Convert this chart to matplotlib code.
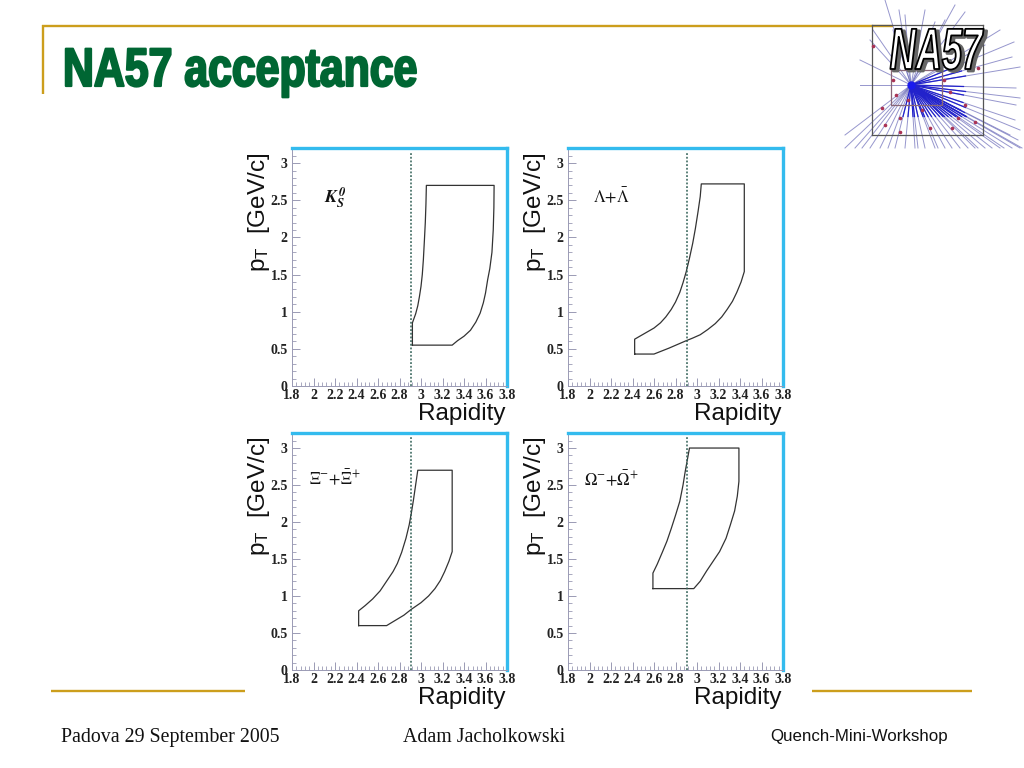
import matplotlib
matplotlib.use("Agg")
import matplotlib.pyplot as plt
import matplotlib.patheffects as pe
from matplotlib.colors import to_rgba
from matplotlib.transforms import Affine2D
from matplotlib.ticker import MultipleLocator, FixedLocator

plt.rcParams['mathtext.fontset'] = 'stix'

W, H = 1024, 768
GOLD = '#cc9e1c'
GREEN = '#006633'
BLUE = '#33bbee'
AXIS = '#9a9ab4'

# acceptance windows (rapidity, pT)
k0_y = [2.92, 2.92, 2.95, 2.97, 2.985, 3.0, 3.012, 3.022, 3.032, 3.04, 3.046, 3.05,
        3.68, 3.678, 3.672, 3.66, 3.64, 3.62, 3.60, 3.58, 3.55, 3.51, 3.46, 3.40, 3.34, 3.29, 2.92]
k0_pt = [0.55, 0.85, 0.97, 1.08, 1.2, 1.34, 1.5, 1.7, 1.97, 2.2, 2.45, 2.7,
         2.7, 2.4, 2.1, 1.8, 1.58, 1.43, 1.25, 1.12, 0.98, 0.86, 0.75, 0.67, 0.61, 0.55, 0.55]

lam_y = [2.42, 2.42, 2.48, 2.54, 2.60, 2.66, 2.71, 2.76, 2.80, 2.84, 2.87, 2.90, 2.93, 2.96, 2.985, 3.01, 3.03, 3.04,
         3.44, 3.44, 3.41, 3.37, 3.33, 3.28, 3.23, 3.17, 3.10, 3.03, 2.96, 2.90, 2.82, 2.74, 2.67, 2.60, 2.42]
lam_pt = [0.43, 0.63, 0.68, 0.73, 0.78, 0.85, 0.93, 1.03, 1.13, 1.26, 1.39, 1.54, 1.72, 1.92, 2.12, 2.35, 2.55, 2.72,
          2.72, 1.54, 1.40, 1.26, 1.14, 1.03, 0.93, 0.84, 0.76, 0.69, 0.645, 0.61, 0.56, 0.51, 0.47, 0.43, 0.43]

xi_y = [2.42, 2.42, 2.48, 2.55, 2.62, 2.68, 2.74, 2.78, 2.82, 2.86, 2.89, 2.91, 2.93, 2.95, 2.97,
        3.29, 3.29, 3.26, 3.22, 3.18, 3.13, 3.07, 3.0, 2.91, 2.84, 2.76, 2.68, 2.42]
xi_pt = [0.6, 0.8, 0.87, 0.96, 1.07, 1.2, 1.33, 1.44, 1.59, 1.78, 1.96, 2.12, 2.3, 2.5, 2.7,
         2.7, 1.6, 1.47, 1.33, 1.21, 1.1, 1.0, 0.91, 0.82, 0.74, 0.67, 0.6, 0.6]

om_y = [2.59, 2.59, 2.63, 2.68, 2.72, 2.76, 2.80, 2.84, 2.87, 2.89, 2.91, 2.93,
        3.39, 3.39, 3.375, 3.35, 3.31, 3.27, 3.21, 3.15, 3.09, 3.03, 2.97, 2.59]
om_pt = [1.1, 1.31, 1.43, 1.6, 1.74, 1.91, 2.09, 2.28, 2.5, 2.68, 2.84, 3.0,
         3.0, 2.55, 2.35, 2.15, 1.96, 1.78, 1.6, 1.47, 1.34, 1.2, 1.1, 1.1]

labels = [r'$\mathbfit{K}_{\mathbfit{S}}^{\,\mathbfit{0}}$', r'$\Lambda{+}\bar{\Lambda}$',
          r'$\Xi^{-}{+}\bar{\Xi}^{+}$', r'$\Omega^{-}{+}\bar{\Omega}^{+}$']
label_pt = [2.53, 2.55, 2.58, 2.57]
cut_y = 2.91
x_ticks = [1.8, 2, 2.2, 2.4, 2.6, 2.8, 3, 3.2, 3.4, 3.6, 3.8]
y_ticks = [0, 0.5, 1, 1.5, 2, 2.5, 3]

# logo tracks: end points in pixels, all from the vertex
track_x = [860, 860, 845, 870, 873, 885, 893, 899, 905, 925, 935, 945, 955, 965, 985, 1000,
           1014, 1012, 1020, 1016, 1020, 1016, 1015, 1020, 1022, 1018, 1020, 1012, 1004, 1010, 1000, 992,
           985, 978, 975, 968, 960, 952, 945, 938, 935, 925, 918, 915, 905, 895, 888, 880, 870, 862, 855, 845]
track_y = [85, 60, 135, 40, 30, 0, 30, 10, 15, 10, 22, 20, 5, 12, 45, 30,
           42, 57, 67, 88, 98, 105, 120, 130, 148, 140, 148, 148, 148, 135, 148, 148,
           148, 148, 148, 148, 148, 148, 148, 148, 148, 148, 148, 148, 148, 148, 148, 148, 148, 148, 148, 148]
dot_x = [873, 882, 900, 935, 950, 965, 975, 978, 958, 930, 900, 885, 908, 922, 944, 893, 896, 952]
dot_y = [46, 108, 132, 62, 92, 105, 122, 68, 118, 128, 118, 125, 100, 110, 80, 80, 95, 128]
logo_lines = [(872, 983, 25, 25), (983, 983, 25, 135), (872, 983, 135, 135), (872, 872, 25, 135)]


class Squeeze(pe.AbstractPathEffect):
    # narrows a real text, the slide uses a condensed face we do not have
    def __init__(self, sx, x0, lw, color, fill=None, offset=(0, 0)):
        super().__init__()
        self.sx = sx
        self.x0 = x0
        self.lw = lw
        self.color = color
        self.fill = fill
        self.dx, self.dy = offset

    def draw_path(self, renderer, gc, tpath, affine, rgbFace=None):
        squeeze = (Affine2D().translate(-self.x0, 0).scale(self.sx, 1)
                   .translate(self.x0 + self.dx, self.dy))
        face = rgbFace if self.fill is None else to_rgba(self.fill)
        gc0 = renderer.new_gc()
        gc0.copy_properties(gc)
        gc0.set_linewidth(self.lw)
        gc0.set_foreground(self.color)
        renderer.draw_path(gc0, tpath, affine + squeeze, face)
        gc0.restore()


fig = plt.figure(figsize=(W / 100, H / 100), dpi=100, facecolor='white')

# page furniture drawn in pixel coordinates
bg = fig.add_axes([0, 0, 1, 1])
bg.set_xlim(0, W)
bg.set_ylim(H, 0)
bg.axis('off')

bg.plot([42, 893], [26, 26], color=GOLD, lw=1.7, solid_capstyle='butt')
bg.plot([43, 43], [25, 94], color=GOLD, lw=1.7, solid_capstyle='butt')
bg.plot([51, 245], [691, 691], color=GOLD, lw=1.7, solid_capstyle='butt')
bg.plot([812, 972], [691, 691], color=GOLD, lw=1.7, solid_capstyle='butt')

title = bg.text(63, 86, 'NA57 acceptance', color=GREEN, fontsize=39, fontweight='bold',
                family='Liberation Sans', ha='left', va='baseline')
title.set_path_effects([Squeeze(0.79, 63, 1.6, GREEN)])

bg.text(61, 742, 'Padova 29 September 2005', family='Liberation Serif', fontsize=14.3, color='#111111', ha='left')
bg.text(403, 742, 'Adam Jacholkowski', family='Liberation Serif', fontsize=14.3, color='#111111', ha='left')
bg.text(770, 741, 'Quench-Mini-Workshop', family='Liberation Sans', fontsize=12.2, color='#111111', ha='left')

# NA57 logo
vx, vy = 911, 85
for tx, ty in zip(track_x, track_y):
    bg.plot([vx, tx], [vy, ty], color='#6a6ab8', lw=0.7, alpha=0.7)
for tx, ty in zip(track_x[16:46], track_y[16:46]):
    bg.plot([vx, vx + 0.5 * (tx - vx)], [vy, vy + 0.5 * (ty - vy)], color='#2222cc', lw=0.9)
for x0, x1, y0, y1 in logo_lines:
    bg.plot([x0, x1], [y0, y1], color='#555555', lw=0.9)
bg.plot([891, 942, 942, 891, 891], [70, 70, 105, 105, 70], color='#886677', lw=0.9)
bg.plot(dot_x, dot_y, ls='none', marker='o', ms=1.6, color='#aa3355')
bg.plot([vx], [vy], marker='o', ms=5, color='#1a1aee')
logo = bg.text(936, 69, 'NA57', fontsize=42, fontweight='bold', fontstyle='italic', color='white',
               family='Liberation Sans', ha='center', va='baseline')
logo.set_path_effects([Squeeze(0.62, 936, 2.0, '#666666', fill='#666666', offset=(3, -2)),
                       Squeeze(0.62, 936, 1.3, 'black')])

panels = [
    (292, 147.5, 386, k0_y, k0_pt),
    (568, 147.5, 386, lam_y, lam_pt),
    (292, 432.5, 670, xi_y, xi_pt),
    (568, 432.5, 670, om_y, om_pt),
]

for i, (left, top, bottom, yy, pt) in enumerate(panels):
    ax = fig.add_axes([left / W, 1 - bottom / H, 215 / W, (bottom - top) / H])
    ax.set_facecolor('none')
    ax.set_xlim(1.8, 3.8)
    ax.set_ylim(0, 3.21)
    ax.plot(yy, pt, color='#333333', lw=0.9, solid_joinstyle='round')
    ax.plot([cut_y, cut_y], [0, 3.15], color='#2f5f55', lw=1.1, ls=(0, (1.2, 1.2)))

    ax.spines['top'].set(color=BLUE, lw=2.4)
    ax.spines['right'].set(color=BLUE, lw=2.4)
    ax.spines['left'].set(color=AXIS, lw=0.7)
    ax.spines['bottom'].set(color=AXIS, lw=0.7)

    ax.xaxis.set_major_locator(FixedLocator(x_ticks))
    ax.yaxis.set_major_locator(FixedLocator(y_ticks))
    ax.xaxis.set_minor_locator(MultipleLocator(0.04))
    ax.yaxis.set_minor_locator(MultipleLocator(0.1))
    ax.tick_params(which='major', direction='in', length=5.8, width=0.7, color=AXIS)
    ax.tick_params(which='minor', direction='in', length=2.8, width=0.6, color=AXIS)
    ax.tick_params(axis='x', pad=2)
    ax.tick_params(axis='y', pad=3)
    ax.set_xticklabels([f'{t:g}' for t in x_ticks], family='Liberation Serif', fontweight='bold',
                       fontsize=10, color='#222222')
    ax.set_yticklabels([f'{t:g}' for t in y_ticks], family='Liberation Serif', fontweight='bold',
                       fontsize=10, color='#222222')

    ax.text(3.79, -0.23, 'Rapidity', family='Liberation Sans', fontsize=17.5, color='#111111',
            ha='right', va='top')
    ax.text(-0.155, 0.73, r'$\mathregular{p_T}$  [GeV/c]', transform=ax.transAxes, rotation=90,
            family='Liberation Sans', fontsize=17.5, color='#111111', ha='center', va='center',
            math_fontfamily='dejavusans')
    ax.text(2.2, label_pt[i], labels[i], fontsize=13 if i == 0 else 12, color='#111111',
            ha='center', va='center')

fig.savefig('out.png', dpi=100)
